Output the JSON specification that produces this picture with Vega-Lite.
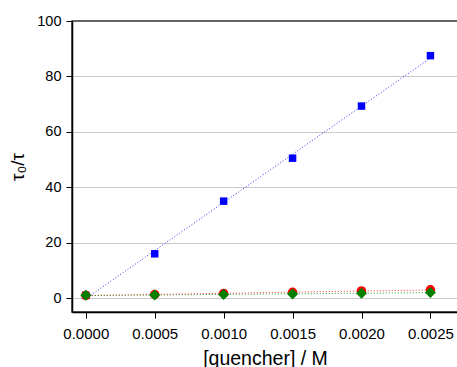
{
  "$schema": "https://vega.github.io/schema/vega-lite/v6.json",
  "width": 386,
  "height": 291,
  "autosize": {"type": "none"},
  "padding": {"left": 72, "top": 21, "right": 0, "bottom": 55},
  "background": "white",
  "config": {
    "font": "Liberation Sans",
    "view": {"stroke": "#333333", "strokeWidth": 1.5}
  },
  "data": {
    "values": [
      {"q": 0.0, "r": 1.0, "s": "A"},
      {"q": 0.0005, "r": 16.0, "s": "A"},
      {"q": 0.001, "r": 35.0, "s": "A"},
      {"q": 0.0015, "r": 50.5, "s": "A"},
      {"q": 0.002, "r": 69.3, "s": "A"},
      {"q": 0.0025, "r": 87.5, "s": "A"},
      {"q": 0.0, "r": 1.0, "s": "B"},
      {"q": 0.0005, "r": 1.3, "s": "B"},
      {"q": 0.001, "r": 1.7, "s": "B"},
      {"q": 0.0015, "r": 2.1, "s": "B"},
      {"q": 0.002, "r": 2.6, "s": "B"},
      {"q": 0.0025, "r": 3.0, "s": "B"},
      {"q": 0.0, "r": 1.0, "s": "C"},
      {"q": 0.0005, "r": 1.1, "s": "C"},
      {"q": 0.001, "r": 1.3, "s": "C"},
      {"q": 0.0015, "r": 1.5, "s": "C"},
      {"q": 0.002, "r": 1.8, "s": "C"},
      {"q": 0.0025, "r": 2.0, "s": "C"}
    ]
  },
  "layer": [
    {
      "transform": [
        {"regression": "r", "on": "q", "groupby": ["s"], "extent": [0, 0.0025]}
      ],
      "mark": {"type": "line", "strokeDash": [1, 2], "strokeWidth": 1, "opacity": 0.8},
      "encoding": {
        "x": {"field": "q", "type": "quantitative"},
        "y": {"field": "r", "type": "quantitative"},
        "color": {"field": "s", "type": "nominal", "legend": null,
          "scale": {"domain": ["A", "B", "C"], "range": ["#0000ff", "#ff0000", "#007f00"]}},
        "detail": {"field": "s"}
      }
    },
    {
      "mark": {"type": "point", "filled": true, "opacity": 1},
      "encoding": {
        "x": {
          "field": "q", "type": "quantitative",
          "scale": {"domain": [-0.0001, 0.0027], "nice": false, "zero": false},
          "axis": {
            "title": "[quencher] / M",
            "titleFontSize": 19.5, "titleFontWeight": "normal", "titleColor": "black", "titlePadding": 8,
            "values": [0, 0.00025, 0.0005, 0.00075, 0.001, 0.00125, 0.0015, 0.00175, 0.002, 0.00225, 0.0025],
            "format": ".4f",
            "labelExpr": "round(datum.value*20000) % 2 == 1 ? '' : datum.label",
            "labelFontSize": 15, "labelColor": "black", "labelPadding": 8,
            "tickSize": {"condition": {"test": "round(datum.value*20000) % 2 == 1", "value": 3}, "value": 6},
            "tickColor": "black", "domainColor": "black", "domainWidth": 1.5, "tickWidth": 1,
            "grid": false
          }
        },
        "y": {
          "field": "r", "type": "quantitative",
          "scale": {"domain": [-5, 100], "nice": false, "zero": false},
          "axis": {
            "title": "τ₀/τ",
            "titleFontSize": 19, "titleFontWeight": "normal", "titleColor": "black", "titlePadding": 9,
            "values": [0, 10, 20, 30, 40, 50, 60, 70, 80, 90, 100],
            "labelExpr": "datum.value % 20 != 0 ? '' : datum.label",
            "labelFontSize": 14.5, "labelColor": "black", "labelPadding": 5,
            "tickSize": {"condition": {"test": "datum.value % 20 != 0", "value": 3}, "value": 6},
            "tickColor": "black", "domainColor": "black", "domainWidth": 1.5, "tickWidth": 1,
            "grid": true, "gridColor": "#c8c8c8", "gridWidth": 1,
            "gridOpacity": {"condition": {"test": "datum.value % 20 != 0 || datum.value == 100", "value": 0}, "value": 1}
          }
        },
        "color": {"field": "s", "type": "nominal", "legend": null,
          "scale": {"domain": ["A", "B", "C"], "range": ["#0000ff", "#ff0000", "#007f00"]}},
        "shape": {"field": "s", "type": "nominal", "legend": null,
          "scale": {"domain": ["A", "B", "C"], "range": ["square", "circle", "diamond"]}},
        "size": {"field": "s", "type": "nominal", "legend": null,
          "scale": {"domain": ["A", "B", "C"], "range": [56, 121, 100]}}
      }
    }
  ]
}
